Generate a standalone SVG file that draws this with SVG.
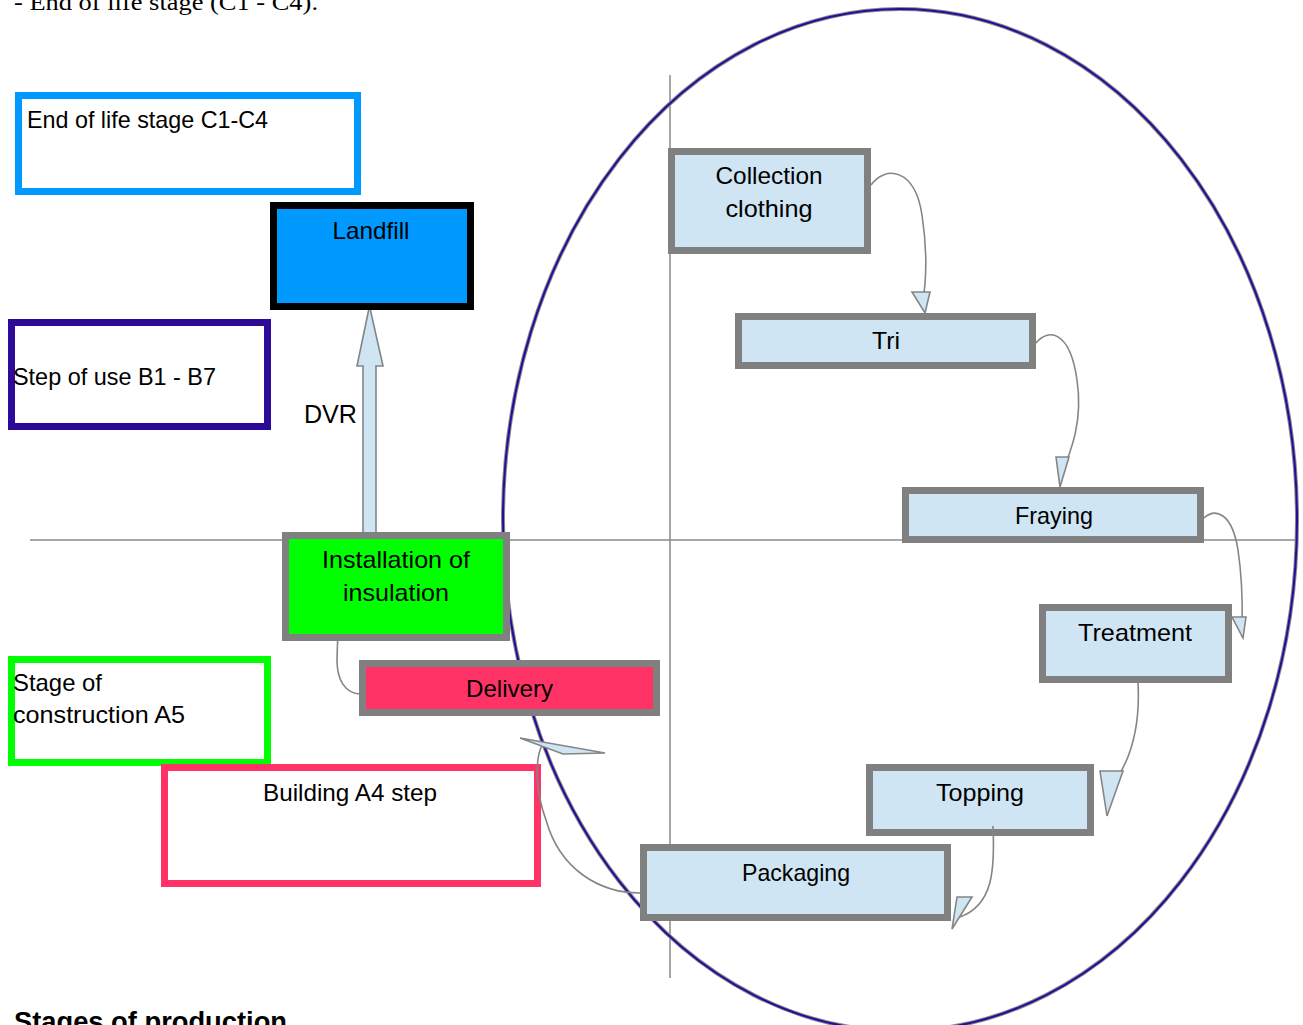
<svg xmlns="http://www.w3.org/2000/svg" width="1303" height="1025" viewBox="0 0 1303 1025">
<style>
  text { font-family: "Liberation Sans", Arial, sans-serif; font-size: 24px; fill: #000; }
  .c { text-anchor: middle; }
  .node { stroke: #808080; stroke-width: 7; }
  .blue { fill: #cfe5f3; }
  .axis { stroke: #8a8a8a; stroke-width: 1.5; fill: none; }
  .conn { stroke: #858585; stroke-width: 1.6; fill: none; }
  .head { fill: #cfe5f3; stroke: #858585; stroke-width: 1.6; stroke-linejoin: miter; }
  .legend { fill: #fff; stroke-width: 7; }
</style>
<rect x="0" y="0" width="1303" height="1025" fill="#fff"/>
<text x="14" y="10" style="font-family:'Liberation Serif','Times New Roman',serif;font-size:24px" textLength="304" lengthAdjust="spacingAndGlyphs">- End of life stage (C1 - C4).</text>
<text x="14" y="1031" style="font-weight:bold;font-size:27px" textLength="273" lengthAdjust="spacingAndGlyphs">Stages of production</text>

<g id="axes">
  <line class="axis" x1="30" y1="540" x2="1297" y2="540"/>
  <line class="axis" x1="670" y1="75" x2="670" y2="978"/>
</g>

<g id="ellipse">
  <ellipse cx="900" cy="520" rx="397" ry="511" fill="none" stroke="#8a8a8a" stroke-width="4"/>
  <ellipse cx="900" cy="520" rx="397" ry="511" fill="none" stroke="#2a0a9a" stroke-width="2"/>
</g>

<g id="legend-end-of-life">
  <rect class="legend" x="18.5" y="95.5" width="339" height="96" stroke="#0099ff"/>
  <text x="27" y="128" textLength="241" lengthAdjust="spacingAndGlyphs">End of life stage C1-C4</text>
</g>
<g id="legend-use">
  <rect class="legend" x="11.5" y="322.5" width="256" height="104" stroke="#2e0a99"/>
  <text x="13" y="385" textLength="203" lengthAdjust="spacingAndGlyphs">Step of use B1 - B7</text>
</g>
<g id="legend-construction">
  <rect class="legend" x="11.5" y="659.5" width="256" height="103" stroke="#00ff00"/>
  <text x="13" y="691" textLength="89" lengthAdjust="spacingAndGlyphs">Stage of</text>
  <text x="13" y="723" textLength="172" lengthAdjust="spacingAndGlyphs">construction A5</text>
</g>
<g id="legend-building">
  <rect class="legend" x="164.5" y="767.5" width="373" height="116" stroke="#ff3366"/>
  <text class="c" x="350" y="801" textLength="174" lengthAdjust="spacingAndGlyphs">Building A4 step</text>
</g>

<g id="connectors">
  <polygon class="head" points="363,533 376,533 376,366 383,366 369.5,306 357,366 363,366"/>
  <text x="304" y="423" style="font-size:25px" textLength="53" lengthAdjust="spacingAndGlyphs">DVR</text>
  <path class="conn" d="M871,185 C885,165 915,168 922,215 C928,255 926,285 922,306"/>
  <polygon class="head" points="912,292 930,292 925,313"/>
  <path class="conn" d="M1036,343 C1048,328 1070,330 1077,380 C1083,420 1072,450 1060,477"/>
  <polygon class="head" points="1056,457 1069,457 1060,487"/>
  <path class="conn" d="M1204,518 C1215,508 1232,512 1238,550 C1244,590 1242,615 1242,637"/>
  <polygon class="head" points="1232,617 1246,617 1243,638"/>
  <path class="conn" d="M1138,683 C1140,720 1135,760 1106,793"/>
  <polygon class="head" points="1100,771 1123,771 1107,816"/>
  <path class="conn" d="M993,826 C995,870 993,905 960,917"/>
  <polygon class="head" points="957,897 972,897 952,929"/>
  <path class="conn" d="M640,893 C600,893 560,870 546,820 C535,790 535,760 542,745"/>
  <polygon class="head" points="520,738 605,753 563,754"/>
  <path class="conn" d="M360,694 C345,693 337,680 337,660 C337,645 338,635 339,627"/>
  <polygon class="head" points="333,623 355,633 339,630"/>
</g>

<g id="landfill">
  <rect x="273.5" y="205.5" width="197" height="101" fill="#0099ff" stroke="#000" stroke-width="7"/>
  <text class="c" x="371" y="239" textLength="77" lengthAdjust="spacingAndGlyphs">Landfill</text>
</g>
<g id="installation">
  <rect class="node" x="285.5" y="535.5" width="221" height="102" fill="#00ff00"/>
  <text class="c" x="396" y="568" textLength="148" lengthAdjust="spacingAndGlyphs">Installation of</text>
  <text class="c" x="396" y="601" textLength="106" lengthAdjust="spacingAndGlyphs">insulation</text>
</g>
<g id="delivery">
  <rect class="node" x="362.5" y="663.5" width="294" height="49" fill="#ff3366"/>
  <text class="c" x="509.5" y="697" textLength="87" lengthAdjust="spacingAndGlyphs">Delivery</text>
</g>
<g id="collection">
  <rect class="node blue" x="671.5" y="151.5" width="196" height="99"/>
  <text class="c" x="769" y="184" textLength="107" lengthAdjust="spacingAndGlyphs">Collection</text>
  <text class="c" x="769" y="217" textLength="87" lengthAdjust="spacingAndGlyphs">clothing</text>
</g>
<g id="tri">
  <rect class="node blue" x="738.5" y="316.5" width="294" height="49"/>
  <text class="c" x="886" y="349" textLength="28" lengthAdjust="spacingAndGlyphs">Tri</text>
</g>
<g id="fraying">
  <rect class="node blue" x="905.5" y="490.5" width="295" height="49"/>
  <text class="c" x="1054" y="524" textLength="78" lengthAdjust="spacingAndGlyphs">Fraying</text>
</g>
<g id="treatment">
  <rect class="node blue" x="1042.5" y="607.5" width="186" height="72"/>
  <text class="c" x="1135" y="641" textLength="114" lengthAdjust="spacingAndGlyphs">Treatment</text>
</g>
<g id="topping">
  <rect class="node blue" x="869.5" y="767.5" width="221" height="65"/>
  <text class="c" x="980" y="801" textLength="88" lengthAdjust="spacingAndGlyphs">Topping</text>
</g>
<g id="packaging">
  <rect class="node blue" x="643.5" y="847.5" width="304" height="70"/>
  <text class="c" x="796" y="881" textLength="108" lengthAdjust="spacingAndGlyphs">Packaging</text>
</g>
<path class="conn" d="M993,826 L993,836"/>
</svg>
